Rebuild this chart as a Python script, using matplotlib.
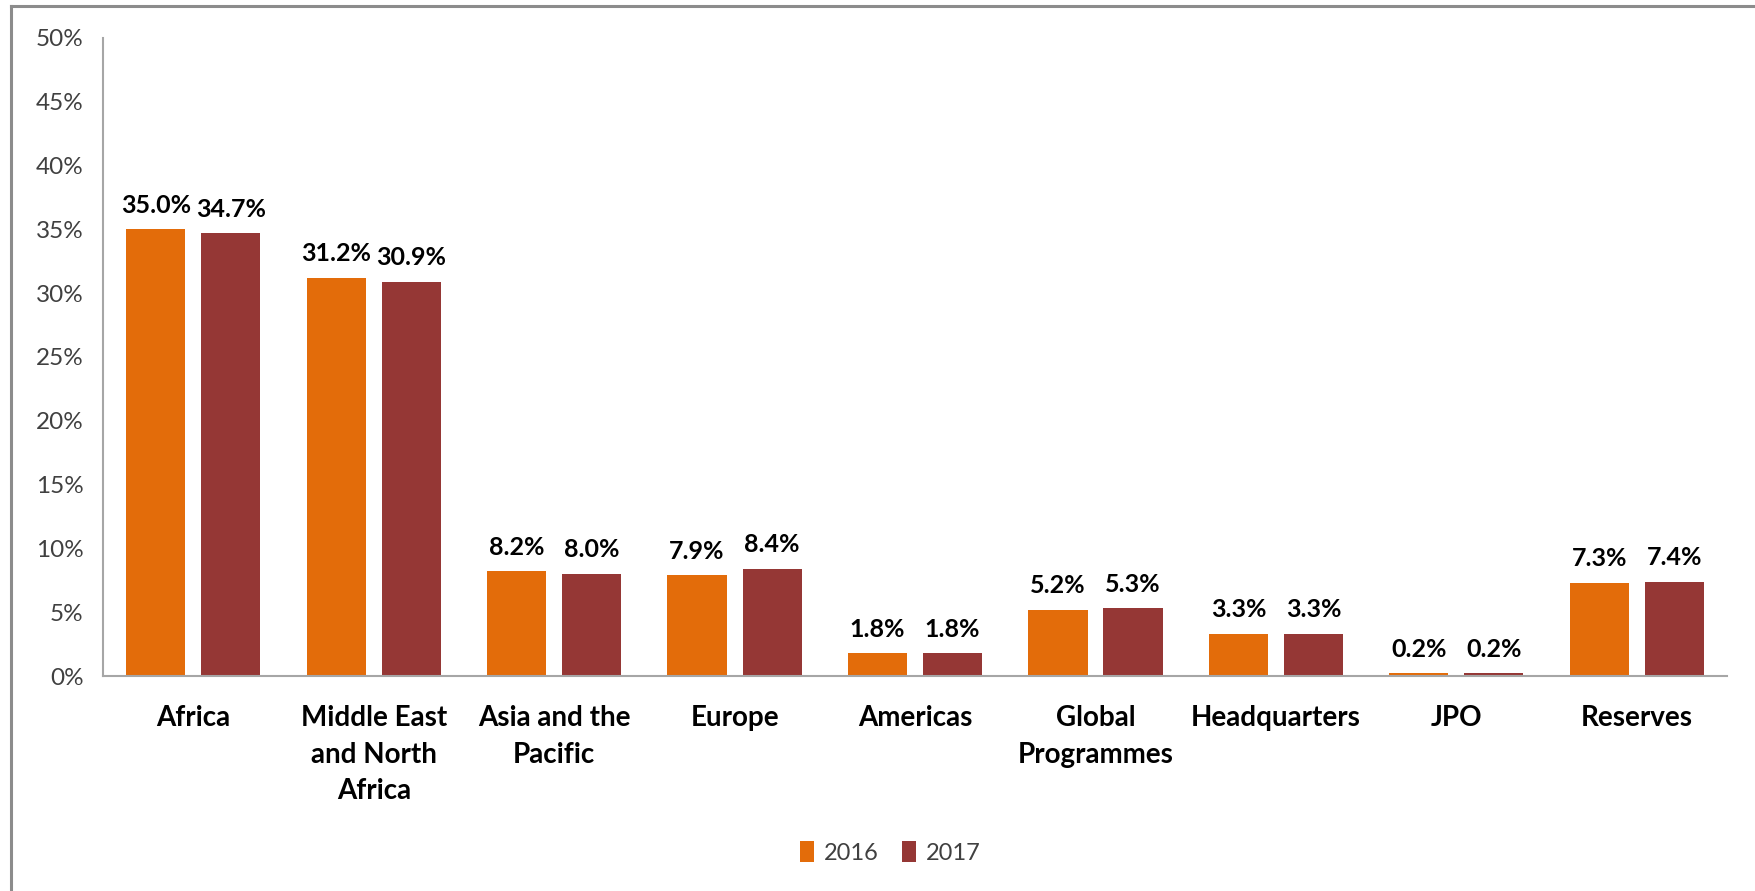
import matplotlib
matplotlib.use('Agg')
import matplotlib.pyplot as plt
from matplotlib.lines import Line2D
import numpy as np

categories = ['Africa', 'Middle East\nand North\nAfrica', 'Asia and the\nPacific', 'Europe',
              'Americas', 'Global\nProgrammes', 'Headquarters', 'JPO', 'Reserves']
y2016 = [35.0, 31.2, 8.2, 7.9, 1.8, 5.2, 3.3, 0.2, 7.3]
y2017 = [34.7, 30.9, 8.0, 8.4, 1.8, 5.3, 3.3, 0.2, 7.4]
series = [('2016', y2016, '#E36C0A'), ('2017', y2017, '#953735')]

FONT = ['Lato', 'DejaVu Sans']
plt.rcParams['font.family'] = FONT

fig = plt.figure(figsize=(17.56, 8.91), dpi=100)
ax = fig.add_axes([0.0587, 0.2413, 0.9248, 0.7161])

x = np.arange(len(categories))
w = 0.328
offs = [-0.208, 0.208]
for (name, vals, col), off in zip(series, offs):
    bars = ax.bar(x + off, vals, w, color=col, label=name, zorder=2)
    for b, v in zip(bars, vals):
        ax.annotate(f'{v:.1f}%', (b.get_x() + b.get_width() / 2, v),
                    xytext=(0, 9), textcoords='offset points',
                    ha='center', va='bottom', fontsize=18, fontweight='bold', color='black')

ax.set_xlim(-0.5, len(categories) - 0.5)
ax.set_ylim(0, 50)
ax.set_yticks(range(0, 51, 5))
ax.set_yticklabels([f'{t}%' for t in range(0, 51, 5)], fontsize=17.5, color='#404040')
ax.set_xticks(x)
ax.set_xticklabels(categories, fontsize=20, fontweight='bold', color='black', linespacing=1.5)
ax.tick_params(axis='both', length=0)
ax.tick_params(axis='x', pad=21)
ax.tick_params(axis='y', pad=14)
for sp in ('top', 'right'):
    ax.spines[sp].set_visible(False)
for sp in ('left', 'bottom'):
    ax.spines[sp].set_color('#A6A6A6')
    ax.spines[sp].set_linewidth(1.5)

leg = ax.legend(loc='center', bbox_to_anchor=(0.507, 0.043), bbox_transform=fig.transFigure,
                ncol=2, frameon=False, fontsize=17, handlelength=0.6, handleheight=1.0,
                handletextpad=0.4, columnspacing=1.0)
for t in leg.get_texts():
    t.set_color('#404040')

# outer chart frame (only top and left edges visible)
fig.add_artist(Line2D([11 / 1756, 1], [1 - 6 / 891, 1 - 6 / 891], color='#8C8C8C', lw=2.2))
fig.add_artist(Line2D([11 / 1756, 11 / 1756], [0, 1 - 6 / 891], color='#8C8C8C', lw=2.2))

fig.savefig('out.png', dpi=100, facecolor='white')
